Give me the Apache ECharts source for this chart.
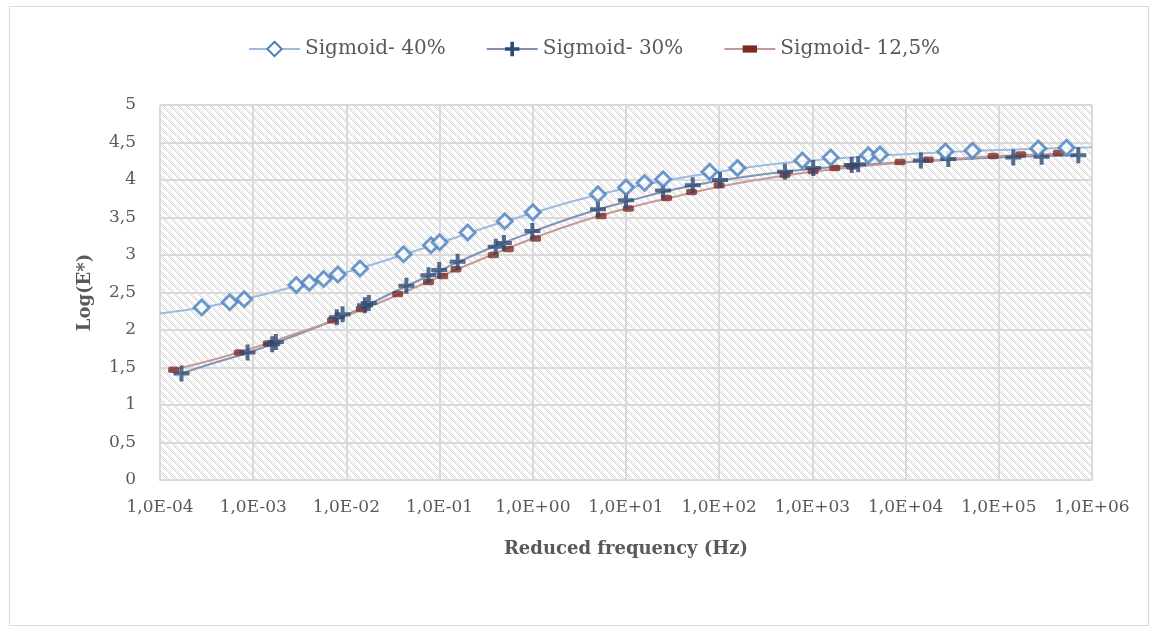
<!DOCTYPE html>
<html>
<head>
<meta charset="utf-8">
<script src="https://cdn.jsdelivr.net/npm/echarts@6/dist/echarts.min.js"></script>
<style>
  html, body { margin: 0; padding: 0; background: #ffffff; }
  #chart { width: 1157px; height: 632px; }
</style>
</head>
<body>
<div id="chart"></div>
<script>
// Series names shown in the legend
const seriesNames = ['Sigmoid- 40%', 'Sigmoid- 30%', 'Sigmoid- 12,5%'];

// Measured points: reduced frequency (Hz) and log(E*)
const freq40 = [2.8e-4, 5.6e-4, 8.0e-4, 2.9e-3, 4.0e-3, 5.7e-3, 8.1e-3, 1.4e-2, 4.1e-2, 8.1e-2, 0.1, 0.2, 0.5, 1, 5, 10, 15.8, 25, 79, 157, 780, 1570, 3980, 5310, 26700, 52200, 265000, 533000];
const logE40 = [2.30, 2.37, 2.41, 2.60, 2.63, 2.68, 2.74, 2.82, 3.01, 3.13, 3.17, 3.30, 3.45, 3.57, 3.81, 3.90, 3.96, 4.01, 4.11, 4.16, 4.26, 4.30, 4.33, 4.34, 4.38, 4.39, 4.42, 4.43];

const freq30 = [1.7e-4, 8.7e-4, 1.6e-3, 1.75e-3, 7.9e-3, 9.1e-3, 1.58e-2, 1.74e-2, 4.4e-2, 7.6e-2, 9.9e-2, 0.156, 0.40, 0.49, 0.99, 5.0, 10, 25, 52, 102, 508, 1020, 2640, 3100, 14600, 28700, 143000, 288000, 713000];
const logE30 = [1.42, 1.70, 1.81, 1.84, 2.17, 2.21, 2.33, 2.36, 2.59, 2.73, 2.80, 2.91, 3.11, 3.16, 3.32, 3.61, 3.73, 3.86, 3.93, 4.00, 4.11, 4.16, 4.20, 4.21, 4.26, 4.28, 4.30, 4.31, 4.33];

const freq125 = [1.4e-4, 7.1e-4, 1.45e-3, 7.1e-3, 1.45e-2, 3.55e-2, 7.6e-2, 0.108, 0.15, 0.377, 0.546, 1.07, 5.4, 10.6, 27.2, 50.5, 100, 508, 1020, 1740, 2630, 8710, 17500, 87100, 172000, 435000];
const logE125 = [1.47, 1.70, 1.82, 2.13, 2.28, 2.48, 2.64, 2.72, 2.81, 3.00, 3.08, 3.22, 3.52, 3.62, 3.76, 3.84, 3.93, 4.07, 4.12, 4.16, 4.18, 4.24, 4.27, 4.32, 4.34, 4.36];

// Sigmoid fit curves, sampled every half decade
const fitFreq40 = [1e-4, 3.16e-4, 1e-3, 3.16e-3, 1e-2, 3.16e-2, 0.1, 0.316, 1, 3.16, 10, 31.6, 100, 316, 1e3, 3.16e3, 1e4, 3.16e4, 1e5, 3.16e5, 1e6];
const fitLogE40 = [2.22, 2.31, 2.44, 2.60, 2.77, 2.96, 3.16, 3.37, 3.56, 3.74, 3.89, 4.01, 4.11, 4.20, 4.26, 4.31, 4.345, 4.375, 4.40, 4.42, 4.435];

const fitFreq30 = [1.7e-4, 3.16e-4, 1e-3, 3.16e-3, 1e-2, 3.16e-2, 0.1, 0.316, 1, 3.16, 10, 31.6, 100, 316, 1e3, 3.16e3, 1e4, 3.16e4, 1e5, 3.16e5, 7.1e5];
const fitLogE30 = [1.42, 1.53, 1.72, 1.95, 2.20, 2.50, 2.79, 3.07, 3.31, 3.53, 3.71, 3.87, 3.99, 4.08, 4.15, 4.20, 4.24, 4.27, 4.30, 4.32, 4.33];

const fitFreq125 = [1.26e-4, 3.16e-4, 1e-3, 3.16e-3, 1e-2, 3.16e-2, 0.1, 0.316, 1, 3.16, 10, 31.6, 100, 316, 1e3, 3.16e3, 1e4, 3.16e4, 1e5, 4.4e5];
const fitLogE125 = [1.46, 1.58, 1.76, 1.97, 2.19, 2.44, 2.71, 2.97, 3.22, 3.44, 3.62, 3.77, 3.91, 4.02, 4.11, 4.18, 4.235, 4.28, 4.32, 4.35];

// Axis tick labels
const xTickLabels = ['1,0E-04', '1,0E-03', '1,0E-02', '1,0E-01', '1,0E+00', '1,0E+01', '1,0E+02', '1,0E+03', '1,0E+04', '1,0E+05', '1,0E+06'];

const zip = (xs, ys) => xs.map((x, i) => [x, ys[i]]);

// Hatched fill for the plotting area: dotted downward diagonals
function hatchTile() {
  const c = document.createElement('canvas');
  c.width = 8; c.height = 8;
  const g = c.getContext('2d');
  g.fillStyle = '#ffffff';
  g.fillRect(0, 0, 8, 8);
  g.fillStyle = '#d8d8d8';
  for (let y = 0; y < 8; y++) {
    for (let x = 0; x < 8; x++) {
      const d = ((x - y) % 8 + 8) % 8;
      if (d < 4 && (x + y) % 2 === 0) g.fillRect(x, y, 1, 1);
    }
  }
  return c;
}

const FONT = 'DejaVu Serif';
const TEXT = '#595959';
const GRID = '#d9d9d9';

const plusPath = 'path://M5.25,0h3.5v5.25h5.25v3.5h-5.25v5.25h-3.5v-5.25h-5.25v-3.5h5.25z';
const dashPath = 'path://M0,0M10,10M0,2.5h10v5h-10z';

const style40 = { line: '#9dbbe0', mark: '#4a7ebb' };
const style30 = { line: '#8193b2', mark: '#2c4a74' };
const style125 = { line: '#c49a98', mark: '#7d2a26' };

const chart = echarts.init(document.getElementById('chart'), null, { renderer: 'canvas' });

chart.setOption({
  animation: false,
  backgroundColor: '#ffffff',
  graphic: [{
    type: 'rect',
    shape: { x: 9.5, y: 6.5, width: 1139, height: 619 },
    style: { fill: null, stroke: GRID, lineWidth: 1 },
    silent: true,
    z: -10
  }],
  legend: {
    data: seriesNames,
    left: 243,
    top: 34,
    itemWidth: 51,
    itemHeight: 18,
    itemGap: 40,
    textStyle: { fontFamily: FONT, fontSize: 20, color: TEXT }
  },
  grid: {
    left: 160,
    right: 65,
    top: 105,
    bottom: 152,
    show: true,
    borderWidth: 0,
    backgroundColor: { image: hatchTile(), repeat: 'repeat' }
  },
  xAxis: {
    type: 'log',
    logBase: 10,
    min: 1e-4,
    max: 1e6,
    interval: 1,
    name: 'Reduced frequency (Hz)',
    nameLocation: 'middle',
    nameGap: 60,
    nameTextStyle: { fontFamily: FONT, fontSize: 18, fontWeight: 'bold', color: TEXT },
    axisLine: { show: true, lineStyle: { color: GRID, width: 2 } },
    axisTick: { show: false },
    axisLabel: {
      fontFamily: FONT, fontSize: 17, color: TEXT, margin: 19,
      formatter: v => xTickLabels[Math.round(Math.log10(v)) + 4]
    },
    splitLine: { show: true, lineStyle: { color: GRID, width: 2 } }
  },
  yAxis: {
    type: 'value',
    min: 0,
    max: 5,
    interval: 0.5,
    name: 'Log(E*)',
    nameLocation: 'middle',
    nameGap: 66,
    nameTextStyle: { fontFamily: FONT, fontSize: 18, fontWeight: 'bold', color: TEXT },
    axisLine: { show: false },
    axisTick: { show: false },
    axisLabel: {
      fontFamily: FONT, fontSize: 17, color: TEXT, margin: 24,
      formatter: v => String(v).replace('.', ',')
    },
    splitLine: { show: true, lineStyle: { color: GRID, width: 2 } }
  },
  series: [
    // fitted curves (these also provide the legend entries)
    {
      name: seriesNames[0], type: 'line', smooth: true, showSymbol: false,
      symbol: 'diamond',
      itemStyle: { color: '#ffffff', borderColor: style40.mark, borderWidth: 3 },
      lineStyle: { color: style40.line, width: 2 },
      data: zip(fitFreq40, fitLogE40), z: 2
    },
    {
      name: seriesNames[1], type: 'line', smooth: true, showSymbol: false,
      symbol: plusPath,
      itemStyle: { color: style30.mark },
      lineStyle: { color: style30.line, width: 2 },
      data: zip(fitFreq30, fitLogE30), z: 2
    },
    {
      name: seriesNames[2], type: 'line', smooth: true, showSymbol: false,
      symbol: dashPath,
      itemStyle: { color: style125.mark },
      lineStyle: { color: style125.line, width: 2 },
      data: zip(fitFreq125, fitLogE125), z: 2
    },
    // measured points
    {
      name: seriesNames[2], type: 'scatter',
      symbol: 'roundRect', symbolSize: [11, 6.5],
      itemStyle: { color: style125.mark },
      data: zip(freq125, logE125), z: 3
    },
    {
      name: seriesNames[1], type: 'scatter',
      symbol: plusPath, symbolSize: 16,
      itemStyle: { color: style30.mark },
      data: zip(freq30, logE30), z: 4
    },
    {
      name: seriesNames[0], type: 'scatter',
      symbol: 'diamond', symbolSize: 15,
      itemStyle: { color: '#ffffff', borderColor: style40.mark, borderWidth: 3 },
      data: zip(freq40, logE40), z: 5
    }
  ]
});
</script>
</body>
</html>
